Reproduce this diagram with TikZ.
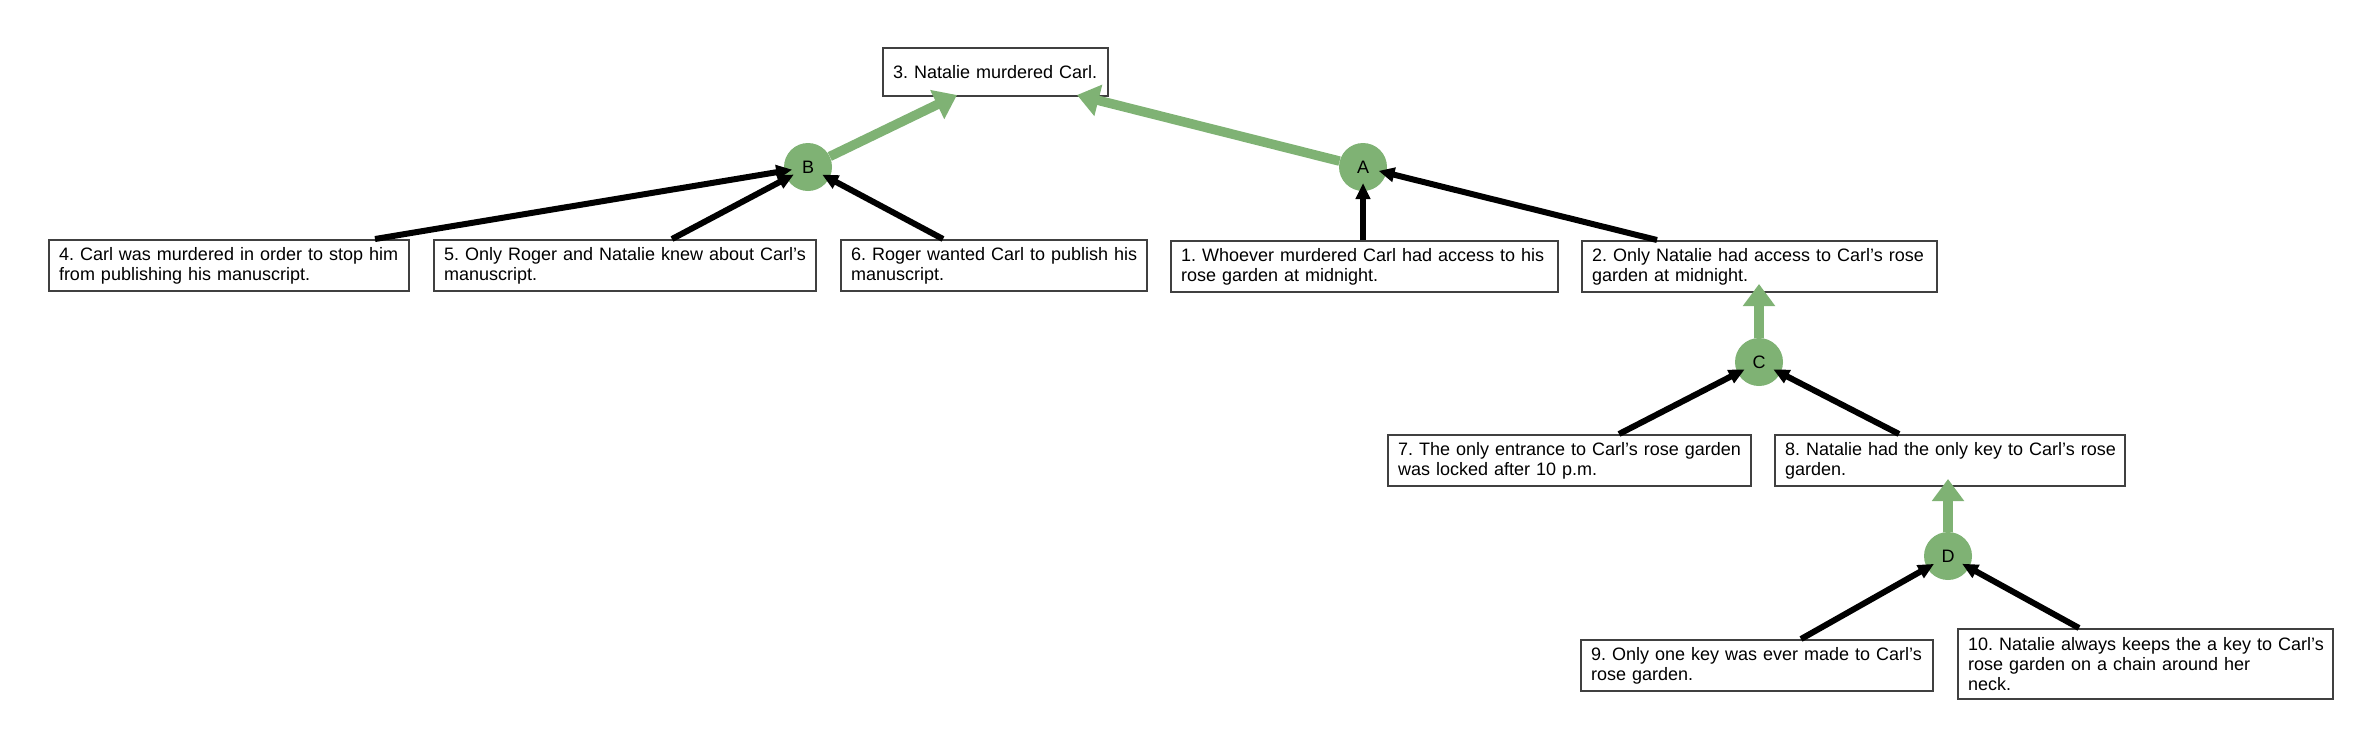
\documentclass[tikz,border=0pt]{standalone}
\usepackage{fontspec}
\setmainfont{Liberation Sans}
\usetikzlibrary{arrows.meta,calc}
\definecolor{argG}{RGB}{127,178,116}
\definecolor{boxline}{RGB}{64,64,64}
\newcommand{\boxfont}{\fontsize{18}{20}\selectfont\frenchspacing}
\newcommand{\bl}[1]{\mbox{#1}}
\tikzset{
  box/.style={draw=boxline, line width=2pt, inner xsep=10pt, inner ysep=0pt,
    align=left, anchor=north west, font=\boxfont},
  inf/.style={circle, fill=argG, minimum size=48pt, inner sep=0pt, font=\boxfont},
  supp/.style={draw=black, line width=6pt, -{Triangle[length=16pt,width=14pt]}},
  conc/.style={draw=argG, line width=9.5pt, -{Triangle[length=22pt,width=31pt]}}
}
\begin{document}
\begin{tikzpicture}[x=1pt,y=-1pt]
\useasboundingbox (0,0) rectangle (2379,748);
% boxes
\node[box, text width=205pt, minimum height=48pt] (n3) at (882,47) {\bl{3. Natalie murdered Carl.}};
\node[box, text width=340pt, minimum height=51pt] (n4) at (48,239) {\bl{4. Carl was murdered in order to stop him}\\\bl{from publishing his manuscript.}};
\node[box, text width=362pt, minimum height=51pt] (n5) at (433,239) {\bl{5. Only Roger and Natalie knew about Carl's}\\\bl{manuscript.}};
\node[box, text width=286pt, minimum height=51pt] (n6) at (840,239) {\bl{6. Roger wanted Carl to publish his}\\\bl{manuscript.}};
\node[box, text width=367pt, minimum height=51pt] (n1) at (1170,240) {\bl{1. Whoever murdered Carl had access to his}\\\bl{rose garden at midnight.}};
\node[box, text width=335pt, minimum height=51pt] (n2) at (1581,240) {\bl{2. Only Natalie had access to Carl's rose}\\\bl{garden at midnight.}};
\node[box, text width=343pt, minimum height=51pt] (n7) at (1387,434) {\bl{7. The only entrance to Carl's rose garden}\\\bl{was locked after 10 p.m.}};
\node[box, text width=330pt, minimum height=51pt] (n8) at (1774,434) {\bl{8. Natalie had the only key to Carl's rose}\\\bl{garden.}};
\node[box, text width=332pt, minimum height=51pt] (n9) at (1580,639) {\bl{9. Only one key was ever made to Carl's}\\\bl{rose garden.}};
\node[box, text width=355pt, minimum height=70pt] (n10) at (1957,628) {\bl{10. Natalie always keeps the a key to Carl's}\\\bl{rose garden on a chain around her}\\\bl{neck.}};
% inference nodes
\node[inf] (B) at (808,167) {B};
\node[inf] (A) at (1363,167) {A};
\node[inf] (C) at (1759,362) {C};
\node[inf] (D) at (1948,556) {D};
% start points of support links
\coordinate (s4) at ($(n4.north west)+(327,0)$);
\coordinate (s5) at ($(n5.north west)+(239,0)$);
\coordinate (s6) at ($(n6.north west)+(103,0)$);
\coordinate (s1) at (A |- n1.north);
\coordinate (s2) at ($(n2.north west)+(76,0)$);
\coordinate (s7) at ($(n7.north west)+(232,0)$);
\coordinate (s8) at ($(n8.north west)+(125,0)$);
\coordinate (s9) at ($(n9.north west)+(221,0)$);
\coordinate (s10) at ($(n10.north west)+(122,0)$);
% conclusion links
\draw[conc] (B) -- ($(n3.south west)+(75,-2)$);
\draw[conc] (A) -- ($(n3.south west)+(195,-2)$);
\draw[conc] (C) -- ($(C |- n2.south)+(0,-9)$);
\draw[conc] (D) -- ($(D |- n8.south)+(0,-8)$);
% support links
\draw[supp] (s4) -- ($(B)!16pt!(s4)$);
\draw[supp] (s5) -- ($(B)!16pt!(s5)$);
\draw[supp] (s6) -- ($(B)!16pt!(s6)$);
\draw[supp] (s1) -- ($(A)!16pt!(s1)$);
\draw[supp] (s2) -- ($(A)!16pt!(s2)$);
\draw[supp] (s7) -- ($(C)!16pt!(s7)$);
\draw[supp] (s8) -- ($(C)!16pt!(s8)$);
\draw[supp] (s9) -- ($(D)!16pt!(s9)$);
\draw[supp] (s10) -- ($(D)!16pt!(s10)$);
\end{tikzpicture}
\end{document}
